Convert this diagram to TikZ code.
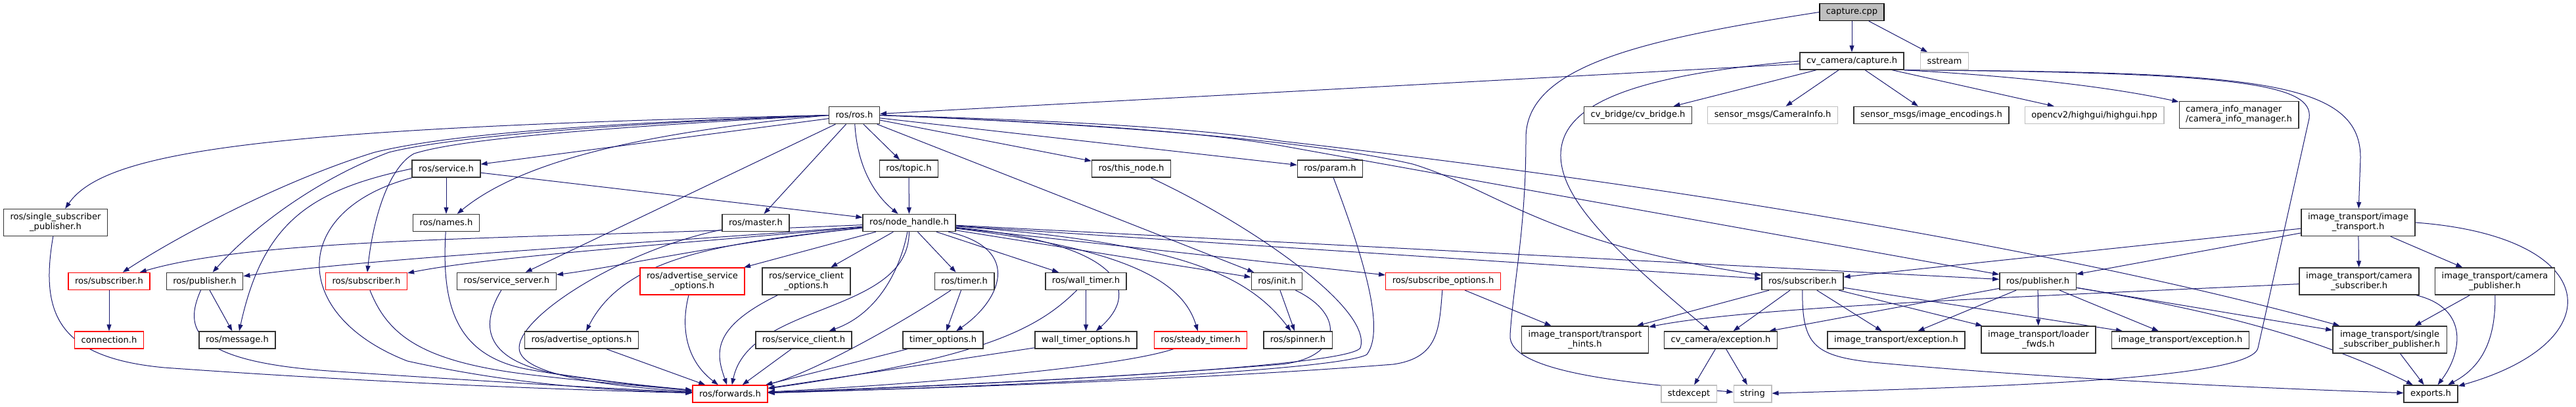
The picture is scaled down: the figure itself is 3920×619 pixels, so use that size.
\documentclass[tikz,border=0pt]{standalone}
\usepackage{fontspec}
\setmainfont{DejaVu Sans}
\usepackage{xcolor}
\usepackage{tikz}
\usetikzlibrary{arrows.meta, backgrounds}

\definecolor{edgeblue}{HTML}{191970}
\definecolor{graybox}{HTML}{BFBFBF}

\begin{document}
\begin{tikzpicture}[
      x=1pt, y=-1pt,
      font=\fontsize{13.1}{15}\selectfont,
      box/.style={draw=black!80, line width=1.4pt, fill=white, align=center, minimum height=26pt, inner xsep=10pt, inner ysep=2pt},
      two/.style={minimum height=41pt},
      trunc/.style={box, draw=red},
      ext/.style={box, draw=graybox},
      cur/.style={box, draw=black, fill=graybox},
      arr/.style={-{Triangle[length=10pt, width=7pt]}, line width=1pt, draw=edgeblue},
    ]
    \useasboundingbox (0,0) rectangle (3920,619);

    % capture.cpp and its direct includes
    \node[cur] (cpp) at (2818,18.5) {capture.cpp};
    \node[box] (capture) at (2818,93) {cv\_camera/capture.h};
    \node[ext] (sstream) at (2959,93) {sstream};

    \node[box] (ros) at (1300,175.5) {ros/ros.h};
    \node[box] (cvbridge) at (2492.5,175.5) {cv\_bridge/cv\_bridge.h};
    \node[ext] (caminfo) at (2697.5,175.5) {sensor\_msgs/CameraInfo.h};
    \node[box] (encodings) at (2939,175.5) {sensor\_msgs/image\_encodings.h};
    \node[ext] (highgui) at (3187,175.5) {opencv2/highgui/highgui.hpp};
    \node[box, two, align=left] (cim) at (3407,175) {camera\_info\_manager\\/camera\_info\_manager.h};

    % ros headers
    \node[box] (service) at (679,257) {ros/service.h};
    \node[box] (topic) at (1383,257) {ros/topic.h};
    \node[box] (thisnode) at (1721.5,257) {ros/this\_node.h};
    \node[box] (param) at (2024,257) {ros/param.h};

    \node[box, two] (rsspub) at (84.5,339) {ros/single\_subscriber\\\_publisher.h};
    \node[box] (names) at (679,339.5) {ros/names.h};
    \node[box] (master) at (1150,339.5) {ros/master.h};
    \node[box] (nh) at (1383.5,339.5) {ros/node\_handle.h};
    \node[box, two] (it) at (3588.5,339) {image\_transport/image\\\_transport.h};

    \node[trunc] (subL) at (166,428.5) {ros/subscriber.h};
    \node[box] (pubL) at (311.5,428.5) {ros/publisher.h};
    \node[trunc] (subM) at (557.5,428.5) {ros/subscriber.h};
    \node[box] (srvserver) at (771,428.5) {ros/service\_server.h};
    \node[trunc, two] (advsrvopt) at (1053.5,428.5) {ros/advertise\_service\\\_options.h};
    \node[box, two] (srvcliopt) at (1227,428.5) {ros/service\_client\\\_options.h};
    \node[box] (timer) at (1467.5,428.5) {ros/timer.h};
    \node[box] (walltimer) at (1652.5,428.5) {ros/wall\_timer.h};
    \node[box] (init) at (1943,428.5) {ros/init.h};
    \node[trunc] (subopt) at (2196,428.5) {ros/subscribe\_options.h};
    \node[box] (subR) at (2743,428.5) {ros/subscriber.h};
    \node[box] (pubR) at (3101,428.5) {ros/publisher.h};
    \node[box, two] (camsub) at (3590,428.5) {image\_transport/camera\\\_subscriber.h};
    \node[box, two] (campub) at (3796.5,428.5) {image\_transport/camera\\\_publisher.h};

    \node[trunc] (connection) at (166,518) {connection.h};
    \node[box] (message) at (361,518) {ros/message.h};
    \node[box] (advopt) at (885,518) {ros/advertise\_options.h};
    \node[box] (srvclient) at (1223,518) {ros/service\_client.h};
    \node[box] (timeropt) at (1435,518) {timer\_options.h};
    \node[box] (walltimeropt) at (1652.5,518) {wall\_timer\_options.h};
    \node[trunc] (steady) at (1827,518) {ros/steady\_timer.h};
    \node[box] (spinner) at (1975,518) {ros/spinner.h};
    \node[box, two] (hints) at (2412,517.5) {image\_transport/transport\\\_hints.h};
    \node[box] (cvexc) at (2618.5,518) {cv\_camera/exception.h};
    \node[box] (itexcA) at (2885.5,518) {image\_transport/exception.h};
    \node[box, two] (loader) at (3102,517.5) {image\_transport/loader\\\_fwds.h};
    \node[box] (itexcB) at (3318,518) {image\_transport/exception.h};
    \node[box, two] (itssp) at (3636.5,517.5) {image\_transport/single\\\_subscriber\_publisher.h};

    % bottom row
    \node[trunc] (forwards) at (1111,600) {ros/forwards.h};
    \node[ext] (stdexcept) at (2570,600) {stdexcept};
    \node[ext] (string) at (2667,600) {string};
    \node[box] (exports) at (3699,600) {exports.h};

    \begin{scope}[on background layer]
      % capture.cpp
      \draw[arr] (cpp) -- (capture);
      \draw[arr] (cpp) -- (sstream);
      \draw[arr] (cpp.west) .. controls (2500,60) and (2322,100) .. (2322,210)
        .. controls (2322,350) and (2303,430) .. (2298,510)
        .. controls (2293,570) and (2500,585) .. (string);

      % cv_camera/capture.h
      \draw[arr] (capture) -- (ros);
      \draw[arr] (capture) -- (cvbridge);
      \draw[arr] (capture) -- (caminfo);
      \draw[arr] (capture) -- (encodings);
      \draw[arr] (capture) -- (highgui);
      \draw[arr] (capture.south east) .. controls (3050,115) and (3200,130) .. (cim);
      \draw[arr] (capture.south east) .. controls (3420,110) and (3592,120) .. (3592,240) -- (it);
      \draw[arr] (capture.south east) .. controls (3420,110) and (3520,130) .. (3514,180)
        -- (3436,530) .. controls (3425,580) and (3000,590) .. (string);
      \draw[arr] (capture.west) .. controls (2480,115) and (2372,160) .. (2375,240)
        .. controls (2378,300) and (2440,370) .. (cvexc);

      % ros/ros.h
      \draw[arr] (ros.west) .. controls (400,195) and (160,230) .. (rsspub);
      \draw[arr] (ros.west) .. controls (900,188) and (680,205) .. (570,232)
        .. controls (430,275) and (270,360) .. (subL);
      \draw[arr] (ros.west) .. controls (900,190) and (680,210) .. (592,232)
        .. controls (490,270) and (390,340) .. (pubL);
      \draw[arr] (ros.west) .. controls (900,195) and (700,212) .. (630,234)
        .. controls (592,255) and (568,330) .. (subM);
      \draw[arr] (ros.west) .. controls (1000,200) and (800,240) .. (names);
      \draw[arr] (ros) -- (service);
      \draw[arr] (ros) -- (srvserver);
      \draw[arr] (ros) -- (master);
      \draw[arr] (ros) .. controls (1305,260) and (1335,300) .. (nh);
      \draw[arr] (ros) -- (topic);
      \draw[arr] (ros) -- (init);
      \draw[arr] (ros) -- (thisnode);
      \draw[arr] (ros) -- (param);
      \draw[arr] (ros.east) .. controls (1700,190) and (2000,215) .. (2150,250)
        .. controls (2280,290) and (2350,370) .. (subR);
      \draw[arr] (ros.east) .. controls (1700,190) and (1850,205) .. (1950,222) -- (pubR);
      \draw[arr] (ros.east) .. controls (1700,186) and (1850,200) .. (1950,215)
        .. controls (2700,300) and (3250,410) .. (itssp);

      % ros/service.h
      \draw[arr] (service) -- (names);
      \draw[arr] (service) -- (nh);
      \draw[arr] (service.west) .. controls (470,290) and (400,340) .. (message);
      \draw[arr] (service) .. controls (440,320) and (440,480) .. (620,550)
        .. controls (800,590) and (950,595) .. (forwards);

      % ros/node_handle.h
      \draw[arr] (nh) .. controls (800,365) and (400,360) .. (subL);
      \draw[arr] (nh) .. controls (1000,370) and (600,390) .. (pubL);
      \draw[arr] (nh) .. controls (1050,370) and (750,390) .. (subM);
      \draw[arr] (nh) .. controls (1100,370) and (950,405) .. (srvserver);
      \draw[arr] (nh) -- (advsrvopt);
      \draw[arr] (nh) -- (srvcliopt);
      \draw[arr] (nh) .. controls (1100,370) and (950,390) .. (advopt);
      \draw[arr] (nh) .. controls (1368,420) and (1330,480) .. (srvclient);
      \draw[arr] (nh) .. controls (1383,480) and (1140,460) .. (forwards);
      \draw[arr] (nh) -- (timer);
      \draw[arr] (nh) .. controls (1560,380) and (1520,460) .. (timeropt);
      \draw[arr] (nh) -- (walltimer);
      \draw[arr] (nh) .. controls (1700,370) and (1740,440) .. (walltimeropt);
      \draw[arr] (nh) .. controls (1720,380) and (1800,430) .. (steady);
      \draw[arr] (nh) .. controls (1800,370) and (1900,420) .. (spinner);
      \draw[arr] (nh) -- (init);
      \draw[arr] (nh) -- (subopt);
      \draw[arr] (nh) -- (subR);
      \draw[arr] (nh) -- (pubR);
      \draw[arr] (topic) -- (nh);

      % into ros/forwards.h
      \draw[arr] (rsspub) .. controls (60,480) and (90,545) .. (250,560)
        .. controls (600,585) and (900,595) .. (forwards);
      \draw[arr] (pubL) .. controls (280,500) and (290,550) .. (500,565)
        .. controls (800,585) and (950,593) .. (forwards);
      \draw[arr] (subM) .. controls (590,510) and (640,550) .. (800,570)
        .. controls (900,582) and (1000,590) .. (forwards);
      \draw[arr] (names) .. controls (672,460) and (690,540) .. (800,562)
        .. controls (900,580) and (1000,590) .. (forwards);
      \draw[arr] (srvserver) .. controls (728,500) and (740,550) .. (850,570)
        .. controls (950,585) and (1010,590) .. (forwards);
      \draw[arr] (master) .. controls (950,380) and (790,480) .. (790,530)
        .. controls (790,575) and (950,590) .. (forwards);
      \draw[arr] (advsrvopt) .. controls (1035,500) and (1045,550) .. (forwards);
      \draw[arr] (srvcliopt) .. controls (1080,500) and (1090,540) .. (forwards);
      \draw[arr] (advopt) -- (forwards);
      \draw[arr] (srvclient) -- (forwards);
      \draw[arr] (timer) .. controls (1360,500) and (1230,570) .. (forwards);
      \draw[arr] (timeropt) -- (forwards);
      \draw[arr] (walltimer) .. controls (1580,500) and (1500,545) .. (forwards);
      \draw[arr] (walltimeropt) -- (forwards);
      \draw[arr] (steady) .. controls (1700,560) and (1400,585) .. (forwards);
      \draw[arr] (init) .. controls (2050,480) and (2040,545) .. (1950,555)
        .. controls (1700,575) and (1400,590) .. (forwards);
      \draw[arr] (thisnode) .. controls (1900,340) and (2090,470) .. (2070,530)
        .. controls (2050,560) and (1500,585) .. (forwards);
      \draw[arr] (param) .. controls (2070,380) and (2110,500) .. (2080,540)
        .. controls (2040,565) and (1500,590) .. (forwards);
      \draw[arr] (subopt) .. controls (2190,500) and (2190,545) .. (2120,555)
        .. controls (1800,580) and (1400,592) .. (forwards);

      % other ros leaves
      \draw[arr] (subL) -- (connection);
      \draw[arr] (pubL) -- (message);
      \draw[arr] (timer) -- (timeropt);
      \draw[arr] (walltimer) -- (walltimeropt);
      \draw[arr] (init) -- (spinner);
      \draw[arr] (subopt) -- (hints);

      % image_transport side
      \draw[arr] (subR) -- (hints);
      \draw[arr] (subR) -- (cvexc);
      \draw[arr] (subR) -- (itexcA);
      \draw[arr] (subR) -- (loader);
      \draw[arr] (subR) -- (itexcB);
      \draw[arr] (subR) .. controls (2742,525) and (2760,542) .. (2850,552)
        .. controls (3100,575) and (3400,590) .. (exports);
      \draw[arr] (pubR) -- (cvexc);
      \draw[arr] (pubR) -- (itexcA);
      \draw[arr] (pubR) -- (loader);
      \draw[arr] (pubR) -- (itexcB);
      \draw[arr] (pubR) -- (itssp);
      \draw[arr] (pubR) .. controls (3350,470) and (3520,510) .. (exports);
      \draw[arr] (it) -- (subR);
      \draw[arr] (it) -- (pubR);
      \draw[arr] (it) -- (camsub);
      \draw[arr] (it) -- (campub);
      \draw[arr] (it.east) .. controls (3960,360) and (3980,520) .. (exports);
      \draw[arr] (camsub) .. controls (3000,455) and (2650,470) .. (hints);
      \draw[arr] (camsub) .. controls (3760,470) and (3745,540) .. (exports);
      \draw[arr] (campub) -- (itssp);
      \draw[arr] (campub) .. controls (3798,520) and (3775,560) .. (exports);
      \draw[arr] (itssp) -- (exports);
      \draw[arr] (cvexc) -- (stdexcept);
      \draw[arr] (cvexc) -- (string);
    \end{scope}
  \end{tikzpicture}
\end{document}
